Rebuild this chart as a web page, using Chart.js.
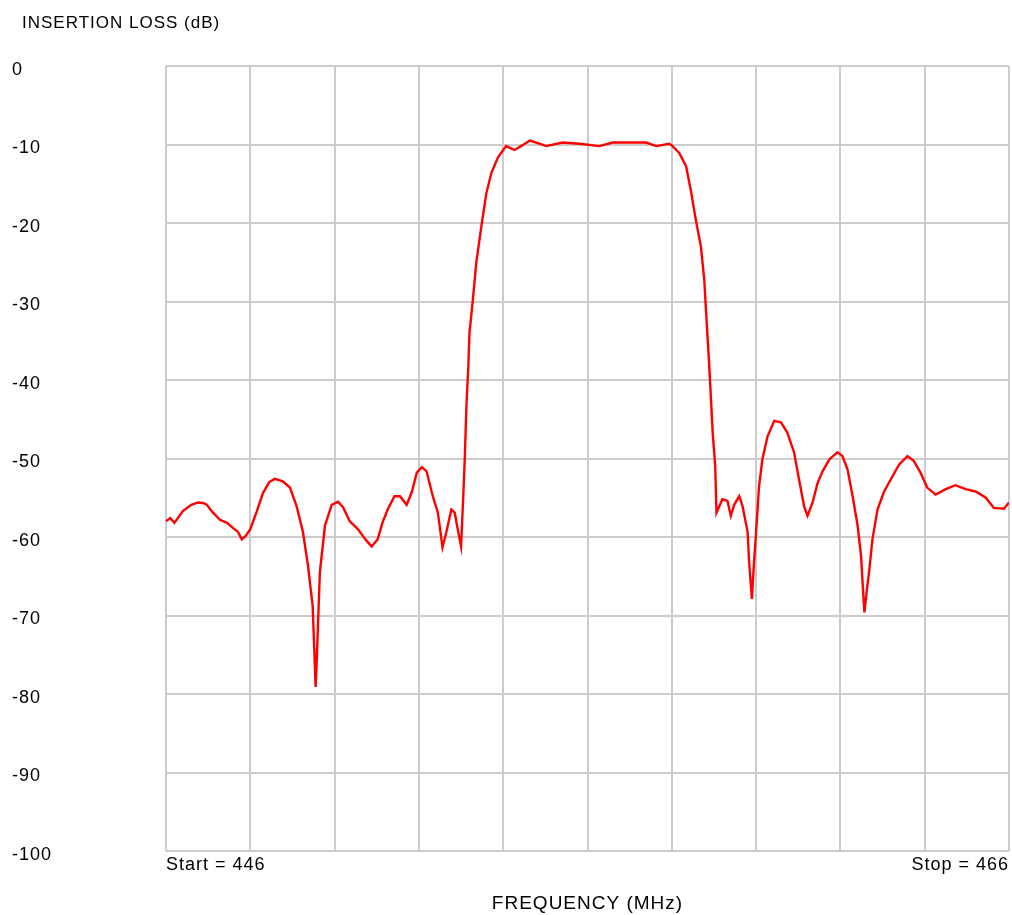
<!DOCTYPE html>
<html>
<head>
<meta charset="utf-8">
<script src="https://cdn.jsdelivr.net/npm/chart.js@4.4.0/dist/chart.umd.min.js"></script>
<style>
  html, body { margin: 0; padding: 0; background: #fff; }
  #wrap { width: 1012px; height: 915px; }
</style>
</head>
<body>
<div id="wrap"><canvas id="lossChart" width="1012" height="915"></canvas></div>
<script>
const freqMHz = [
  446.00, 446.10, 446.20, 446.40, 446.60, 446.76, 446.90, 446.97, 447.10, 447.28,
  447.45, 447.60, 447.70, 447.80, 447.90, 448.00, 448.15, 448.30, 448.45, 448.58,
  448.77, 448.94, 449.10, 449.25, 449.37, 449.48, 449.55, 449.58, 449.65, 449.77,
  449.93, 450.08, 450.20, 450.36, 450.55, 450.76, 450.88, 451.02, 451.14, 451.26,
  451.42, 451.55, 451.71, 451.83, 451.95, 452.07, 452.18, 452.33, 452.45, 452.56,
  452.65, 452.77, 452.85, 452.92, 453.00, 453.05, 453.09, 453.13, 453.17, 453.20,
  453.28, 453.36, 453.48, 453.60, 453.72, 453.88, 454.07, 454.27, 454.47, 454.63,
  454.86, 455.02, 455.41, 455.81, 456.28, 456.60, 457.39, 457.63, 457.94, 458.02,
  458.18, 458.34, 458.45, 458.57, 458.69, 458.77, 458.81, 458.89, 458.97, 459.03,
  459.06, 459.20, 459.32, 459.40, 459.48, 459.60, 459.68, 459.80, 459.83, 459.90,
  459.95, 460.00, 460.07, 460.15, 460.27, 460.43, 460.59, 460.74, 460.90, 461.02,
  461.14, 461.22, 461.34, 461.46, 461.58, 461.74, 461.93, 462.05, 462.17, 462.29,
  462.41, 462.49, 462.54, 462.57, 462.62, 462.68, 462.76, 462.88, 463.03, 463.19,
  463.39, 463.59, 463.74, 463.90, 464.06, 464.26, 464.50, 464.73, 464.97, 465.21,
  465.45, 465.64, 465.88, 466.00
];
const lossDb = [
  -58.0, -57.6, -58.2, -56.7, -55.9, -55.6, -55.7, -55.9, -56.8, -57.8,
  -58.2, -58.9, -59.3, -60.3, -59.8, -59.0, -56.8, -54.4, -53.0, -52.6,
  -52.9, -53.7, -56.1, -59.4, -63.7, -68.8, -79.1, -75.2, -64.5, -58.6,
  -55.9, -55.5, -56.2, -58.0, -59.0, -60.5, -61.2, -60.3, -58.1, -56.5,
  -54.8, -54.8, -55.9, -54.3, -51.8, -51.1, -51.6, -54.8, -56.9, -61.3,
  -59.4, -56.5, -56.9, -59.0, -61.2, -55.2, -49.7, -42.9, -38.7, -34.0,
  -29.8, -25.1, -20.5, -16.2, -13.6, -11.6, -10.2, -10.7, -10.05, -9.5,
  -9.9, -10.2, -9.75, -9.9, -10.2, -9.75, -9.75, -10.2, -9.9, -10.2,
  -11.1, -12.8, -15.8, -19.6, -23.0, -27.2, -31.0, -38.3, -46.7, -51.0,
  -56.9, -55.2, -55.4, -57.3, -55.9, -54.8, -56.1, -59.4, -62.8, -67.9,
  -63.3, -59.4, -53.5, -50.1, -47.2, -45.2, -45.4, -46.7, -49.2, -52.7,
  -56.1, -57.3, -55.6, -53.1, -51.6, -50.1, -49.2, -49.7, -51.4, -54.8,
  -58.6, -62.4, -67.1, -69.6, -67.1, -64.5, -60.3, -56.5, -54.3, -52.7,
  -50.8, -49.7, -50.3, -51.8, -53.7, -54.6, -53.9, -53.4, -53.9, -54.2,
  -55.0, -56.3, -56.4, -55.6
];

const freqStart = 446;
const freqStop = 466;
const yLabel = "INSERTION LOSS (dB)";
const xLabel = "FREQUENCY (MHz)";

const gridColor = "#cccccc";
const fontFamily = "'Liberation Sans', Arial, sans-serif";
const tickFont = { family: fontFamily, size: 18 };

let points = [];
for (let i = 0; i < freqMHz.length; i++) {
    points.push({ x: freqMHz[i], y: lossDb[i] });
}

// top-left axis caption + a little letter spacing like the original screen font
const captionPlugin = {
    id: 'caption',
    beforeDraw(chart) {
        chart.ctx.letterSpacing = '1px';
    },
    afterDraw(chart) {
        const ctx = chart.ctx;
        ctx.save();
        ctx.font = "17px " + fontFamily;
        ctx.fillStyle = "#000";
        ctx.textBaseline = "middle";
        ctx.textAlign = "left";
        ctx.fillText(yLabel, 22, 23);
        ctx.restore();
    }
};

new Chart(document.getElementById("lossChart"), {
    type: 'line',
    data: {
        datasets: [{
            data: points,
            borderColor: "#ff0000",
            borderWidth: 2.4,
            pointRadius: 0,
            tension: 0,
            fill: false
        }]
    },
    options: {
        responsive: false,
        animation: false,
        layout: {
            padding: { left: 12, top: 66, right: 1, bottom: 0 }
        },
        plugins: {
            legend: { display: false },
            tooltip: { enabled: false }
        },
        scales: {
            x: {
                type: 'linear',
                min: freqStart,
                max: freqStop,
                afterFit: function(scale) { scale.height = 64; },
                grid: { color: gridColor, lineWidth: 2, drawTicks: false },
                border: { display: false },
                ticks: {
                    stepSize: 2,
                    autoSkip: false,
                    maxRotation: 0,
                    align: 'inner',
                    padding: 3,
                    color: "#000",
                    font: tickFont,
                    callback: function(value) {
                        if (value == freqStart) return "Start = " + freqStart;
                        if (value == freqStop) return "Stop = " + freqStop;
                        return "";
                    }
                },
                title: {
                    display: true,
                    text: xLabel,
                    color: "#000",
                    font: { family: fontFamily, size: 19 },
                    padding: { top: 0, bottom: 0 }
                }
            },
            y: {
                min: -100,
                max: 0,
                afterFit: function(scale) { scale.width = 154; },
                grid: { color: gridColor, lineWidth: 2, drawTicks: false },
                border: { display: false },
                ticks: {
                    stepSize: 10,
                    crossAlign: 'far',
                    labelOffset: 4,
                    color: "#000",
                    font: tickFont
                }
            }
        }
    },
    plugins: [captionPlugin]
});
</script>
</body>
</html>
